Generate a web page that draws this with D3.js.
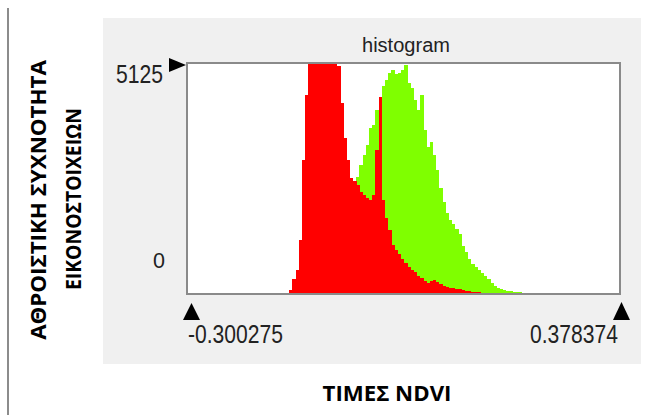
<!DOCTYPE html>
<html>
<head>
<meta charset="utf-8">
<script src="https://cdn.jsdelivr.net/npm/d3@7"></script>
<style>
  body { margin: 0; background: #fff; }
  svg { display: block; }
</style>
</head>
<body>
<div id="chart"></div>
<script>
// histogram bins: start NDVI and bin width
const binStart = -0.14;
const binWidth = 0.005;
const xMin = -0.300275;
const xMax = 0.378374;
const yMax = 5125;

// red series (counts per bin from binStart)
const redCounts = [
  89, 333, 533, 1198, 2973, 4416, 5400, 5900, 6300, 6500,
  6600, 6400, 6100, 5800, 5450, 5059, 4238, 3462, 2973, 2574,
  2507, 2419, 2263, 2197, 2130, 2086, 2197, 3195, 4371, 2086,
  1686, 1420, 1087, 976, 888, 777, 688, 599, 533, 488,
  399, 355, 288, 244, 288, 311, 266, 222, 178, 155,
  133, 133, 111, 111, 89, 67, 67, 44, 44, 44, 22
];

// green series (counts per bin from binStart)
const greenCounts = [
  0, 0, 0, 0, 0, 0, 0, 0, 0, 0,
  0, 0, 0, 0, 100, 250, 450, 650, 800, 1400,
  2000, 2596, 2863, 3084, 3306, 3684, 3750, 4083, 4305, 4616,
  4749, 4904, 4971, 4882, 4904, 4971, 5082, 4682, 4571, 4305,
  4083, 4416, 3639, 3262, 3373, 3084, 2752, 2352, 2041, 1797,
  1642, 1553, 1442, 1331, 1065, 932, 777, 666, 599, 533,
  466, 399, 333, 244, 178, 133, 111, 89, 67, 67,
  44, 44, 44, 22, 22, 22, 11
];

const yLabels = ['5125', '0'];
const xLabels = ['-0.300275', '0.378374'];
const chartTitle = 'histogram';
const yTitle = ['ΑΘΡΟΙΣΤΙΚΗ ΣΥΧΝΟΤΗΤΑ', 'ΕΙΚΟΝΟΣΤΟΙΧΕΙΩΝ'];
const xTitle = 'ΤΙΜΕΣ NDVI';

const width = 648;
const height = 415;
const box = { left: 187, right: 620, top: 63, bottom: 294 };

const svg = d3.select('#chart')
  .append('svg')
  .attr('width', width)
  .attr('height', height);

// left rule
svg.append('line')
  .attr('x1', 8).attr('x2', 8)
  .attr('y1', 8).attr('y2', height)
  .attr('stroke', '#8c8c8c')
  .attr('stroke-width', 2);

// grey panel
svg.append('rect')
  .attr('x', 103).attr('y', 18)
  .attr('width', 538).attr('height', 346)
  .attr('fill', '#f0f0f0');

svg.append('rect')
  .attr('x', box.left).attr('y', box.top)
  .attr('width', box.right - box.left).attr('height', box.bottom - box.top)
  .attr('fill', '#fff');

const xScale = d3.scaleLinear()
  .domain([xMin, xMax])
  .range([box.left, box.right]);

const yScale = d3.scaleLinear()
  .domain([0, yMax])
  .range([box.bottom, box.top])
  .clamp(true);

function drawSeries(counts, color) {
  svg.append('g')
    .attr('shape-rendering', 'crispEdges')
    .selectAll('rect')
    .data(counts)
    .enter()
    .append('rect')
    .attr('x', (d, i) => xScale(binStart + i * binWidth))
    .attr('width', (d, i) => xScale(binStart + (i + 1) * binWidth) - xScale(binStart + i * binWidth) + 0.3)
    .attr('y', (d) => yScale(d))
    .attr('height', (d) => yScale(0) - yScale(d))
    .attr('fill', color);
}

drawSeries(greenCounts, '#7fff00');
drawSeries(redCounts, '#ff0000');

// sunken frame
svg.append('rect')
  .attr('x', box.left).attr('y', box.top)
  .attr('width', box.right - box.left).attr('height', box.bottom - box.top)
  .attr('fill', 'none')
  .attr('stroke', '#8a8a8a')
  .attr('stroke-width', 2);

const numFont = '"Liberation Sans", Arial, sans-serif';

function label(x, y, text, size, len) {
  svg.append('text')
    .attr('x', x).attr('y', y)
    .attr('font-family', numFont)
    .attr('font-size', size)
    .attr('textLength', len)
    .attr('lengthAdjust', 'spacingAndGlyphs')
    .attr('fill', '#222')
    .text(text);
}

label(362, 52, chartTitle, 20, 88);
label(116, 83, yLabels[0], 25, 47);
label(153, 268, yLabels[1], 22, 12);
label(188, 343, xLabels[0], 25, 95);
label(530, 343, xLabels[1], 25, 88);

// markers
const markers = [
  [[169, 58], [186, 65], [169, 72]],
  [[183, 320], [191.5, 303], [200, 320]],
  [[613, 320], [621.5, 302], [630, 320]],
];
svg.append('g')
  .selectAll('path')
  .data(markers)
  .enter()
  .append('path')
  .attr('d', (d) => d3.line()(d) + 'Z')
  .attr('fill', '#000');

// axis titles: squeeze horizontally so every line keeps the same glyph height
const titleFont = '"Open Sans", "Noto Sans", sans-serif';

function boldTitle(x, y, angle, text, size, len) {
  const t = svg.append('text')
    .attr('text-anchor', 'middle')
    .attr('font-family', titleFont)
    .attr('font-weight', 700)
    .attr('font-size', size)
    .text(text);
  const k = len / t.node().getComputedTextLength();
  t.attr('transform', `translate(${x},${y}) rotate(${angle}) scale(${k},1)`);
}

boldTitle(46, 200, -90, yTitle[0], 21, 280);
boldTitle(81, 199, -90, yTitle[1], 21, 182);
boldTitle(387, 401, 0, xTitle, 21, 129);
</script>
</body>
</html>
